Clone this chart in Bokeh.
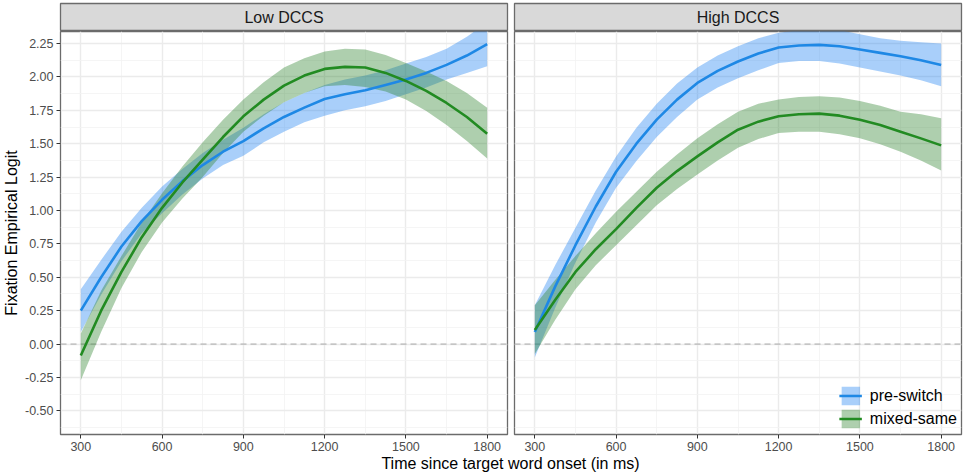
from bokeh.plotting import figure
from bokeh.models import (Range1d, FixedTicker, PrintfTickFormatter, Label, Span,
                          Legend, LegendItem)
from bokeh.layouts import row, column
from bokeh.embed import file_html
from bokeh.resources import INLINE

# ---------------- data ----------------
TIME = [300, 375, 450, 525, 600, 675, 750, 825, 900, 975, 1050,
        1125, 1200, 1275, 1350, 1425, 1500, 1575, 1650, 1725, 1800]

# Low DCCS panel
low_pre_fit = [0.25, 0.50, 0.73, 0.92, 1.08, 1.22, 1.34, 1.44, 1.52, 1.615, 1.70,
               1.77, 1.835, 1.87, 1.90, 1.94, 1.98, 2.03, 2.09, 2.16, 2.245]
low_pre_lo = [0.09, 0.37, 0.62, 0.83, 0.98, 1.12, 1.24, 1.34, 1.41, 1.51, 1.59,
              1.66, 1.71, 1.75, 1.78, 1.82, 1.87, 1.92, 1.98, 2.03, 2.08]
low_pre_hi = [0.41, 0.63, 0.84, 1.02, 1.18, 1.31, 1.43, 1.53, 1.62, 1.72, 1.81,
              1.88, 1.94, 1.98, 2.01, 2.05, 2.10, 2.15, 2.21, 2.30, 2.41]

low_mix_fit = [-0.085, 0.25, 0.54, 0.80, 1.02, 1.21, 1.38, 1.55, 1.705, 1.83, 1.935,
               2.01, 2.06, 2.075, 2.07, 2.03, 1.97, 1.895, 1.805, 1.70, 1.575]
low_mix_lo = [-0.27, 0.09, 0.42, 0.69, 0.91, 1.09, 1.25, 1.43, 1.59, 1.71, 1.81,
              1.88, 1.93, 1.94, 1.925, 1.89, 1.83, 1.745, 1.64, 1.52, 1.39]
low_mix_hi = [0.08, 0.40, 0.66, 0.91, 1.13, 1.33, 1.51, 1.68, 1.83, 1.96, 2.07,
              2.14, 2.19, 2.21, 2.205, 2.165, 2.105, 2.04, 1.97, 1.88, 1.77]

# High DCCS panel
high_pre_fit = [0.09, 0.43, 0.74, 1.03, 1.29, 1.50, 1.68, 1.83, 1.955, 2.045, 2.115,
                2.175, 2.22, 2.235, 2.24, 2.23, 2.205, 2.18, 2.155, 2.125, 2.09]
high_pre_lo = [-0.10, 0.27, 0.61, 0.91, 1.17, 1.37, 1.55, 1.70, 1.83, 1.92, 1.99,
               2.05, 2.105, 2.12, 2.12, 2.10, 2.07, 2.04, 2.01, 1.975, 1.93]
high_pre_hi = [0.29, 0.59, 0.87, 1.15, 1.405, 1.62, 1.80, 1.95, 2.07, 2.16, 2.23,
               2.29, 2.33, 2.35, 2.36, 2.35, 2.32, 2.29, 2.27, 2.26, 2.25]

high_mix_fit = [0.105, 0.33, 0.54, 0.71, 0.86, 1.02, 1.17, 1.295, 1.405, 1.51, 1.605,
                1.665, 1.705, 1.72, 1.725, 1.71, 1.68, 1.64, 1.59, 1.54, 1.4875]
high_mix_lo = [-0.075, 0.18, 0.41, 0.59, 0.74, 0.89, 1.04, 1.16, 1.27, 1.375, 1.47,
               1.535, 1.58, 1.59, 1.59, 1.57, 1.54, 1.495, 1.44, 1.375, 1.30]
high_mix_hi = [0.29, 0.48, 0.66, 0.83, 0.99, 1.14, 1.29, 1.42, 1.54, 1.645, 1.74,
               1.80, 1.83, 1.85, 1.855, 1.845, 1.82, 1.785, 1.74, 1.72, 1.69]

PANELS = ["Low DCCS", "High DCCS"]
SERIES = ["pre-switch", "mixed-same"]
X_TICKS = [300, 600, 900, 1200, 1500, 1800]
X_MINOR = [450, 750, 1050, 1350, 1650]
Y_TICKS = [-0.5, -0.25, 0.0, 0.25, 0.5, 0.75, 1.0, 1.25, 1.5, 1.75, 2.0, 2.25]
Y_MINOR = [-0.625, -0.375, -0.125, 0.125, 0.375, 0.625, 0.875, 1.125, 1.375,
           1.625, 1.875, 2.125]
X_TITLE = "Time since target word onset (in ms)"
Y_TITLE = "Fixation Empirical Logit"

# ---------------- style / layout ----------------
FONT = "Liberation Sans"
BLUE_LINE, BLUE_FILL = "#1E88E5", "#1E82F2"
GREEN_LINE, GREEN_FILL = "#228B22", "#2A822A"
FILL_ALPHA = 0.38
BORDER = "#6B6B6B"
X_LO, X_HI = 225, 1875
Y_LO, Y_HI = -0.677, 2.34
FRAME_W, FRAME_H, STRIP_H = 447, 403, 28
LEFT_PAD = 60
TOTAL_W = 966


def make_strip(title, left):
    s = figure(frame_width=FRAME_W, frame_height=STRIP_H,
               x_range=Range1d(0, 1), y_range=Range1d(0, 1),
               toolbar_location=None, output_backend="svg",
               min_border_top=3, min_border_bottom=0,
               min_border_left=LEFT_PAD if left else 4,
               min_border_right=3 if left else 5,
               x_axis_location=None, y_axis_location=None)
    s.xgrid.visible = False
    s.ygrid.visible = False
    s.background_fill_color = "#D9D9D9"
    s.border_fill_color = "white"
    s.outline_line_color = BORDER
    s.outline_line_width = 1.3
    s.add_layout(Label(x=0.5, y=0.5, text=title, text_align="center",
                       text_baseline="middle", text_font=FONT,
                       text_font_size="16px", text_color="#1A1A1A"))
    return s


def make_panel(series, left, legend=False):
    p = figure(frame_width=FRAME_W, frame_height=FRAME_H,
               x_range=Range1d(X_LO, X_HI), y_range=Range1d(Y_LO, Y_HI),
               toolbar_location=None, output_backend="svg",
               min_border_top=0, min_border_bottom=0,
               min_border_left=LEFT_PAD if left else 4,
               min_border_right=3 if left else 5,
               y_axis_location="left" if left else None)
    p.background_fill_color = "white"
    p.border_fill_color = "white"
    p.outline_line_color = BORDER
    p.outline_line_width = 1.3

    xt = FixedTicker(ticks=X_TICKS, minor_ticks=X_MINOR)
    yt = FixedTicker(ticks=Y_TICKS, minor_ticks=Y_MINOR)
    p.xaxis.ticker = xt
    p.xgrid.ticker = xt
    p.ygrid.ticker = yt
    for g in (p.xgrid, p.ygrid):
        g.grid_line_color = "#EBEBEB"
        g.grid_line_width = 1.4
        g.minor_grid_line_color = "#F2F2F2"
        g.minor_grid_line_width = 0.8

    axes = [p.xaxis[0]] + ([p.yaxis[0]] if left else [])
    for ax in axes:
        ax.axis_line_color = None
        ax.major_tick_line_color = "#333333"
        ax.major_tick_in = 0
        ax.major_tick_out = 4
        ax.minor_tick_line_color = None
        ax.major_label_text_font = FONT
        ax.major_label_text_font_size = "12.5px"
        ax.major_label_text_color = "#4D4D4D"
        ax.major_label_standoff = 3
    if left:
        p.yaxis.ticker = yt
        p.yaxis.formatter = PrintfTickFormatter(format="%.2f")
        p.yaxis.axis_label = Y_TITLE
        p.yaxis.axis_label_text_font = FONT
        p.yaxis.axis_label_text_font_size = "16px"
        p.yaxis.axis_label_text_font_style = "normal"
        p.yaxis.axis_label_text_color = "#000000"
        p.yaxis.axis_label_standoff = 2

    zero = Span(location=0, dimension="width", line_color="#A8A8A8",
                line_width=1, line_dash="6 4", level="underlay")
    p.add_layout(zero)

    bands, lines = [], []
    for (fit, lo, hi), fc in zip(series, [BLUE_FILL, GREEN_FILL]):
        bands.append(p.varea(x=TIME, y1=lo, y2=hi, fill_color=fc, fill_alpha=FILL_ALPHA))
    for (fit, lo, hi), lc in zip(series, [BLUE_LINE, GREEN_LINE]):
        lines.append(p.line(x=TIME, y=fit, line_color=lc, line_width=2.6,
                            line_join="round"))

    if legend:
        items = [LegendItem(label=name, renderers=[b, l])
                 for name, b, l in zip(SERIES, bands, lines)]
        lg = Legend(items=items, location="bottom_right",
                    glyph_width=23, glyph_height=23, spacing=0,
                    label_standoff=8, label_text_font=FONT,
                    label_text_font_size="16px", label_text_color="#000000",
                    background_fill_alpha=0, border_line_color=None,
                    padding=3, margin=4)
        p.add_layout(lg)
    return p


s1 = make_strip(PANELS[0], left=True)
s2 = make_strip(PANELS[1], left=False)
p1 = make_panel([(low_pre_fit, low_pre_lo, low_pre_hi),
                 (low_mix_fit, low_mix_lo, low_mix_hi)], left=True)
p2 = make_panel([(high_pre_fit, high_pre_lo, high_pre_hi),
                 (high_mix_fit, high_mix_lo, high_mix_hi)], left=False, legend=True)

t = figure(width=TOTAL_W, height=19, x_range=Range1d(0, TOTAL_W), y_range=Range1d(0, 19),
           toolbar_location=None, output_backend="svg", min_border=0,
           x_axis_location=None, y_axis_location=None)
t.outline_line_color = None
t.xgrid.visible = False
t.ygrid.visible = False
t.add_layout(Label(x=510, y=9.5, text=X_TITLE, text_align="center",
                   text_baseline="middle", text_font=FONT, text_font_size="16px",
                   text_color="#000000"))

layout = column(row(s1, s2), row(p1, p2), t)
open("out.html", "w").write(file_html(layout, INLINE))
